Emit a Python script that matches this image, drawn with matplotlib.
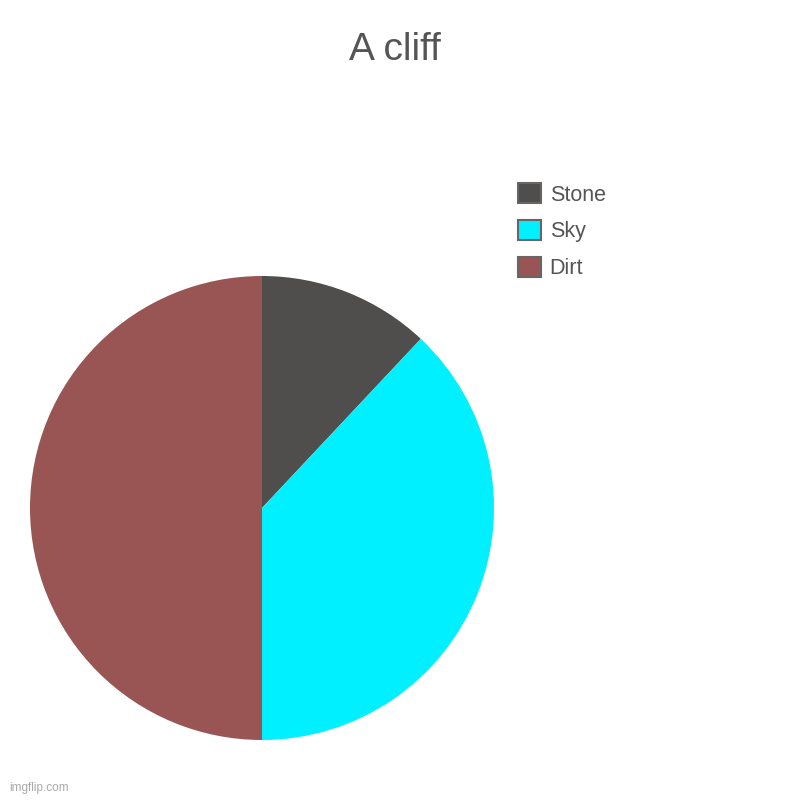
import matplotlib
matplotlib.use("Agg")
import matplotlib.pyplot as plt
from matplotlib.patches import Patch

# data
labels = ["Stone", "Sky", "Dirt"]
values = [12, 38, 50]
colors = ["#504e4c", "#00f0ff", "#985554"]

plt.rcParams['font.family'] = ['Liberation Sans', 'DejaVu Sans']

fig = plt.figure(figsize=(8, 8), dpi=100)
fig.patch.set_facecolor("white")

ax = fig.add_axes([0.0375, 0.075, 0.58, 0.58])
ax.pie(values, colors=colors, startangle=90, counterclock=False, radius=1,
       wedgeprops=dict(linewidth=0))
ax.set_xlim(-1, 1)
ax.set_ylim(-1, 1)
ax.set_aspect("equal")
ax.axis("off")

fig.text(0.494, 0.938, "A cliff", ha="center", va="center", fontsize=28, color="#555555")

handles = [Patch(facecolor=c, edgecolor="#666666", linewidth=1.5) for c in colors]
fig.legend(handles, labels, loc="upper left", bbox_to_anchor=(0.648, 0.771),
           frameon=False, fontsize=15.5, labelcolor="#555555",
           handlelength=1.05, handleheight=1.05, handletextpad=0.4, labelspacing=0.68,
           borderaxespad=0, borderpad=0)

fig.text(0.012, 0.008, "imgflip.com", fontsize=8.5, color="#aaaaaa", ha="left", va="bottom")

fig.savefig("out.png", dpi=100)
